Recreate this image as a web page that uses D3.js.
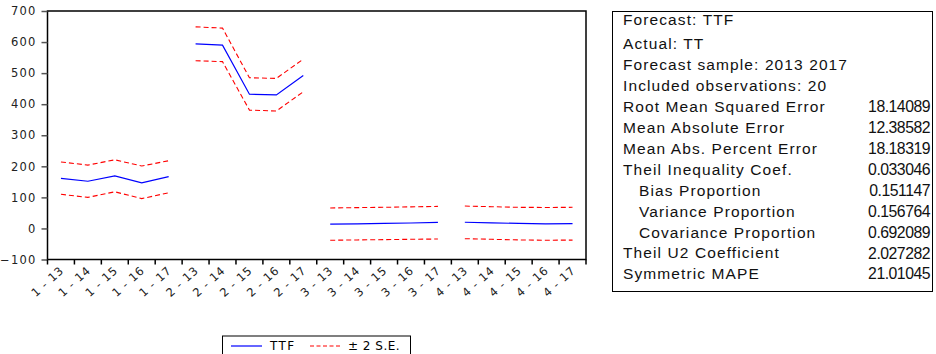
<!DOCTYPE html>
<html>
<head>
<meta charset="utf-8">
<script src="https://cdn.jsdelivr.net/npm/d3@7/dist/d3.min.js"></script>
<style>
  html, body { margin: 0; padding: 0; background: #fff; }
  svg { display: block; }
</style>
</head>
<body>
<svg id="chart" width="936" height="354"></svg>
<script>
const categories = [
  "1 - 13","1 - 14","1 - 15","1 - 16","1 - 17",
  "2 - 13","2 - 14","2 - 15","2 - 16","2 - 17",
  "3 - 13","3 - 14","3 - 15","3 - 16","3 - 17",
  "4 - 13","4 - 14","4 - 15","4 - 16","4 - 17"
];
const ttf = [161, 152, 169, 147, 167,
             594, 590, 432, 430, 492,
             14, 15, 16, 17.5, 19.5,
             20, 18, 16, 15, 15.5];
const upper = [214, 204, 221, 201, 218,
               649, 645, 485, 483, 545,
               66, 67, 68, 69.5, 71,
               72, 70, 68, 67.5, 68];
const lower = [110, 100, 118, 96, 115,
               540, 537, 381, 378, 440,
               -38, -37, -36, -35, -34,
               -33, -35, -37, -38, -37.5];
const yTicks = [-100, 0, 100, 200, 300, 400, 500, 600, 700];

const statLabels = [
  "Forecast: TTF", "Actual: TT", "Forecast sample: 2013 2017",
  "Included observations: 20", "Root Mean Squared Error",
  "Mean Absolute Error", "Mean Abs. Percent Error",
  "Theil Inequality Coef.", "Bias Proportion", "Variance Proportion",
  "Covariance Proportion", "Theil U2 Coefficient", "Symmetric MAPE"
];
const statValues = [
  "", "", "", "", "18.14089", "12.38582", "18.18319",
  "0.033046", "0.151147", "0.156764", "0.692089", "2.027282", "21.01045"
];
const statIndent = [0,0,0,0,0,0,0,0,1,1,1,0,0];

const svg = d3.select("#chart");
const L = 47.5, R = 586, T = 11, B = 259.5;

const x = d3.scaleBand().domain(categories).range([L, R]).padding(0);
const y = d3.scaleLinear().domain([-100, 700]).range([B, T]);

// frame
svg.append("rect").attr("x", L).attr("y", T).attr("width", R - L).attr("height", B - T)
  .attr("fill", "none").attr("stroke", "#000").attr("stroke-width", 1.5);

// y axis
const yAxis = svg.append("g").attr("transform", `translate(${L},0)`)
  .call(d3.axisLeft(y).tickValues(yTicks).tickSize(6).tickPadding(5).tickFormat(d3.format("d")));
yAxis.select(".domain").remove();
yAxis.selectAll(".tick line").attr("stroke", "#555").attr("stroke-width", 1.5);
yAxis.selectAll("text").attr("font-family", "DejaVu Sans").attr("font-size", 11.5)
  .attr("letter-spacing", 1.2).attr("fill", "#222");

// x axis ticks at band boundaries
const xg = svg.append("g");
const boundaries = categories.map(c => x(c)).concat([R]);
xg.selectAll("line").data(boundaries).join("line")
  .attr("x1", d => d).attr("x2", d => d).attr("y1", B).attr("y2", B + 5)
  .attr("stroke", "#000").attr("stroke-width", 1.5);
xg.selectAll("text").data(categories).join("text")
  .attr("transform", d => `translate(${x(d) + x.bandwidth() / 2 + 1},${B + 9}) rotate(-42)`)
  .attr("text-anchor", "end").attr("dy", "0.35em")
  .attr("font-family", "DejaVu Sans").attr("font-size", 11.5).attr("letter-spacing", 0.9)
  .attr("fill", "#222").text(d => d);

// series lines per cross-section group
const groups = d3.groups(categories.map((c, i) => ({c, i})), d => d.c.split(" - ")[0]);
const line = arr => d3.line()
  .x(d => x(d.c) + x.bandwidth() / 2)
  .y(d => y(arr[d.i]));

groups.forEach(([g, items]) => {
  svg.append("path").datum(items).attr("d", line(upper))
    .attr("fill", "none").attr("stroke", "#ff0000").attr("stroke-width", 1.1).attr("stroke-dasharray", "5,3");
  svg.append("path").datum(items).attr("d", line(lower))
    .attr("fill", "none").attr("stroke", "#ff0000").attr("stroke-width", 1.1).attr("stroke-dasharray", "5,3");
  svg.append("path").datum(items).attr("d", line(ttf))
    .attr("fill", "none").attr("stroke", "#0000ff").attr("stroke-width", 1.2);
});

// legend
const lg = svg.append("g");
lg.append("rect").attr("x", 222.5).attr("y", 336).attr("width", 188).attr("height", 30)
  .attr("fill", "#fff").attr("stroke", "#000").attr("stroke-width", 1);
lg.append("line").attr("x1", 231).attr("x2", 262).attr("y1", 346).attr("y2", 346)
  .attr("stroke", "#0000ff").attr("stroke-width", 1.2);
lg.append("text").attr("x", 270).attr("y", 346).attr("dy", "0.35em")
  .attr("font-family", "DejaVu Sans").attr("font-size", 12).attr("letter-spacing", 1.4).text("TTF");
lg.append("line").attr("x1", 310).attr("x2", 341).attr("y1", 346).attr("y2", 346)
  .attr("stroke", "#ff0000").attr("stroke-width", 1.1).attr("stroke-dasharray", "4,2.5");
lg.append("text").attr("x", 348).attr("y", 346).attr("dy", "0.35em")
  .attr("font-family", "DejaVu Sans").attr("font-size", 12).attr("letter-spacing", 0.5).text("± 2 S.E.");

// stats box
const sb = svg.append("g");
sb.append("rect").attr("x", 612.5).attr("y", 11.5).attr("width", 320).attr("height", 280)
  .attr("fill", "#fff").attr("stroke", "#000").attr("stroke-width", 1);
const rowY = i => i === 0 ? 20 : 44 + (i - 1) * 20.9;
sb.selectAll("text.lab").data(statLabels).join("text").attr("class", "lab")
  .attr("x", (d, i) => 623 + statIndent[i] * 16).attr("y", (d, i) => rowY(i)).attr("dy", "0.35em")
  .attr("font-family", "Liberation Sans").attr("font-size", 15.5).attr("letter-spacing", 1.1)
  .attr("fill", "#111").text(d => d);
sb.selectAll("text.val").data(statValues).join("text").attr("class", "val")
  .attr("x", 930).attr("y", (d, i) => rowY(i)).attr("dy", "0.35em")
  .attr("text-anchor", "end")
  .attr("font-family", "Liberation Sans").attr("font-size", 15.8).attr("letter-spacing", -0.5)
  .attr("fill", "#111").text(d => d);
</script>
</body>
</html>
